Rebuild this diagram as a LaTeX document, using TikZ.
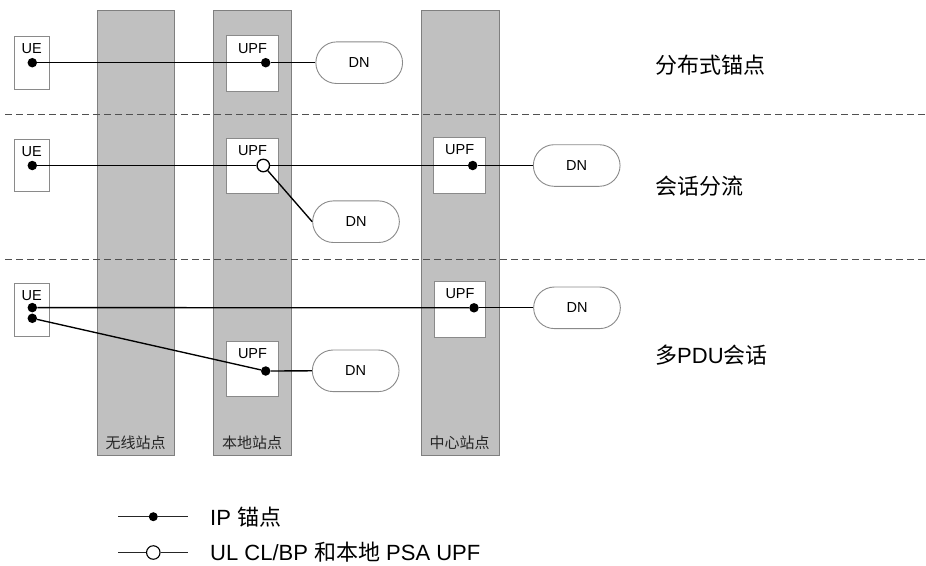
\documentclass[tikz,border=0pt]{standalone}
\usepackage{fontspec}
\setmainfont{Liberation Sans}
\newfontfamily\cjk{Noto Sans CJK SC}
\definecolor{sitefill}{HTML}{C0C0C0}
\definecolor{siteline}{HTML}{7F7F7F}
\definecolor{boxline}{HTML}{8A8A8A}
\definecolor{sepline}{HTML}{505050}
\begin{document}
\begin{tikzpicture}[x=1pt,y=-1pt,
  site/.style={draw=siteline, fill=sitefill, line width=0.9pt, anchor=north west, inner sep=0, minimum width=77.6pt, minimum height=445pt},
  sitelabel/.style={font=\fontsize{15}{18}\selectfont\cjk, text=black!85, inner sep=0},
  upfbox/.style={draw=boxline, fill=white, line width=0.9pt, minimum width=51.6pt, minimum height=55.5pt, inner sep=0},
  uebox/.style={draw=boxline, fill=white, line width=0.9pt, minimum width=35pt, minimum height=53pt, inner sep=0},
  lbl/.style={font=\fontsize{14.5}{17}\selectfont, inner sep=0},
  dn/.style={draw=boxline, fill=white, line width=0.9pt, rounded corners=20.8pt, minimum width=86.7pt, minimum height=41.6pt, inner sep=0, font=\fontsize{14.5}{17}\selectfont},
  anchordot/.style={circle, fill=black, inner sep=0, minimum size=9.5pt},
  opendot/.style={circle, draw=black, fill=white, line width=1.3pt, inner sep=0, minimum size=12.5pt},
  link/.style={line width=1.35pt},
  legendlink/.style={line width=1.1pt, draw=black!85},
  sep/.style={draw=sepline, line width=0.9pt, dash pattern=on 7pt off 4pt},
  big/.style={font=\fontsize{22}{26}\selectfont, inner sep=0, anchor=west}]
\useasboundingbox (0,0) rectangle (926,565);

% sites
\node[site] (s1) at (96.7,10) {};
\node[site] (s2) at (213.3,10) {};
\node[site] (s3) at (421,10) {};
\node[sitelabel] (s1l) at (135.5,442.7) {无线站点};
\node[sitelabel] (s2l) at (252.2,442.7) {本地站点};
\node[sitelabel] (s3l) at (459.7,442.7) {中心站点};

% separators
\coordinate (sepa1) at (5,114.3);
\coordinate (sepa2) at (926,114.3);
\coordinate (sepb1) at (5,259.3);
\coordinate (sepb2) at (926,259.3);
\draw[sep] (sepa1) -- (sepa2);
\draw[sep] (sepb1) -- (sepb2);

% row 1
\node[uebox] (ue1) at (31.8,62.5) {};
\node[lbl] at ([yshift=-12.7pt]ue1.north) {UE};
\node[upfbox] (u1) at (252.5,63.3) {};
\node[lbl] at ([yshift=-13pt]u1.north) {UPF};
\node[dn] (dn1) at (359.2,62.7) {DN};

% row 2
\node[uebox, minimum height=52.7pt] (ue2) at (31.8,165.4) {};
\node[lbl] at ([yshift=-12.7pt]ue2.north) {UE};
\node[upfbox] (u2a) at (252.5,166.1) {};
\node[lbl] at ([yshift=-13pt]u2a.north) {UPF};
\node[upfbox] (u2b) at (459.7,165.2) {};
\node[lbl] at ([yshift=-13pt]u2b.north) {UPF};
\node[dn] (dn2a) at (576.7,165.5) {DN};
\node[dn] (dn2b) at (356,221.7) {DN};

% row 3
\node[uebox, minimum height=53.4pt] (ue3) at (31.8,310) {};
\node[lbl] at ([yshift=-12.7pt]ue3.north) {UE};
\node[upfbox] (u3b) at (460,309.2) {};
\node[lbl] at ([yshift=-13pt]u3b.north) {UPF};
\node[upfbox] (u3a) at (252.5,368.9) {};
\node[lbl] at ([yshift=-13pt]u3a.north) {UPF};
\node[dn] (dn3a) at (577,307.8) {DN};
\node[dn] (dn3b) at (355.7,370.8) {DN};

% dots
\node[anchordot] (d1a) at (32.3,62.7) {};
\node[anchordot] (d1b) at (265.7,62.7) {};
\node[anchordot] (d2a) at (32.3,165.5) {};
\node[opendot] (o2) at (263.3,165.5) {};
\node[anchordot] (d2b) at (472.7,165.5) {};
\node[anchordot] (d3a) at (32.3,307.6) {};
\node[anchordot] (d3b) at (32.3,318.3) {};
\node[anchordot] (d3c) at (474,307.8) {};
\node[anchordot] (d3d) at (265.7,371) {};

% connectors
\draw[link] (d1a) -- (d1b);
\draw[link] (d1b) -- (dn1.west);
\draw[link] (d2a) -- (o2);
\draw[link] (o2) -- (d2b);
\draw[link] (d2b) -- (dn2a.west);
\draw[link] (o2) -- (dn2b.west);
\draw[link] (d3a) -- (d3c);
\draw[link] (d3c) -- (dn3a.west);
\draw[link] (d3b) -- (d3d);
\draw[link] (d3d) -- (dn3b.west);

% scenario labels
\node[big] (t1) at (655,65) {\cjk 分布式锚点};
\node[big] (t2) at (655,186) {\cjk 会话分流};
\node[big] (t3) at (655,355) {{\cjk 多}PDU{\cjk 会话}};

% legend
\coordinate (la1) at (118.3,516.7);
\coordinate (la2) at (188.3,516.7);
\coordinate (lb1) at (118.3,552.5);
\coordinate (lb2) at (188.3,552.5);
\node[anchordot, minimum size=9pt] (ld1) at (153.3,516.7) {};
\node[opendot, line width=1.1pt, minimum size=13.5pt] (ld2) at (153.3,552.5) {};
\draw[legendlink] (la1) -- (ld1);
\draw[legendlink] (ld1) -- (la2);
\draw[legendlink] (lb1) -- (ld2);
\draw[legendlink] (ld2) -- (lb2);
\node[big] (lt1) at (210,516.7) {IP {\cjk 锚点}};
\node[big] (lt2) at (210,552.5) {UL CL/BP {\cjk 和本地} PSA UPF};
\end{tikzpicture}
\end{document}
